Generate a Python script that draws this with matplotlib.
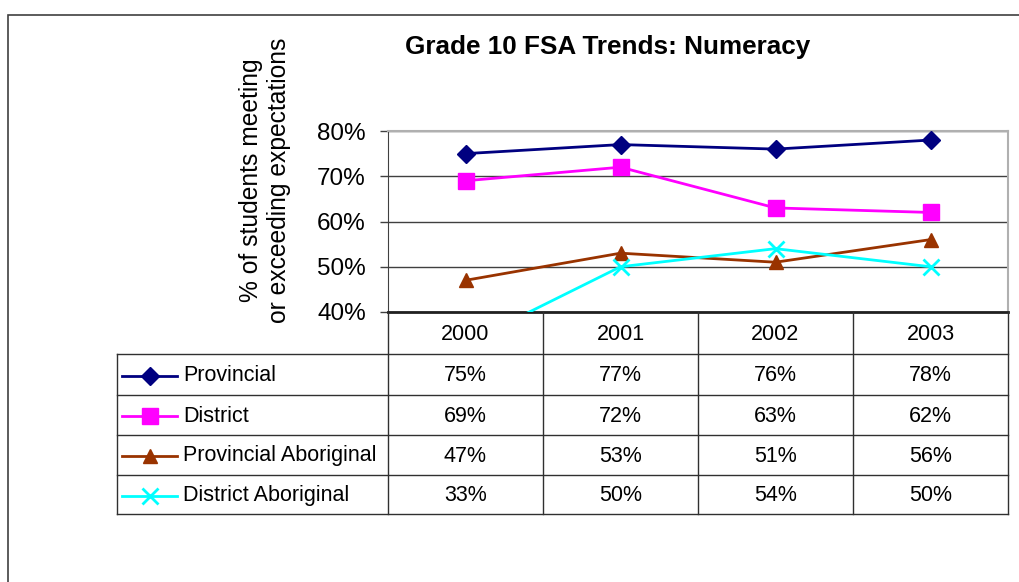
import matplotlib
matplotlib.use('Agg')
import matplotlib.pyplot as plt
import matplotlib.transforms as mtransforms
from matplotlib.lines import Line2D
from matplotlib.patches import Rectangle

plt.rcParams['font.family'] = ['Liberation Sans', 'DejaVu Sans']

years = ['2000', '2001', '2002', '2003']
series_names = ['Provincial', 'District', 'Provincial Aboriginal', 'District Aboriginal']
provincial = [75, 77, 76, 78]
district = [69, 72, 63, 62]
prov_aboriginal = [47, 53, 51, 56]
district_aboriginal = [33, 50, 54, 50]

values = [provincial, district, prov_aboriginal, district_aboriginal]
colors = ['#000080', '#FF00FF', '#993300', '#00FFFF']
markers = ['D', 's', '^', 'x']
msizes = [9, 11, 10, 11]

W, H = 1019, 582
fig = plt.figure(figsize=(W / 100, H / 100), dpi=100, facecolor='white')


def fy(y):
    return 1 - y / H


def fx(x):
    return x / W


# plot area in pixels
L, R, T, B = 388, 1008, 131, 312
ax = fig.add_axes([fx(L), fy(B), fx(R) - fx(L), fy(T) - fy(B)])
ax.set_xlim(-0.5, len(years) - 0.5)
ax.set_ylim(40, 80)
ax.set_yticks([40, 50, 60, 70, 80])
ax.set_yticklabels([f'{v}%' for v in [40, 50, 60, 70, 80]], fontsize=17.5)
ax.set_xticks([])
ax.tick_params(axis='y', direction='out', length=6, width=1, color='#404040', pad=10)
ax.grid(axis='y', color='#404040', linewidth=1)
ax.set_axisbelow(True)
for s in ['top', 'right']:
    ax.spines[s].set_color('#b0b0b0')
    ax.spines[s].set_linewidth(1.5)
ax.spines['left'].set_color('#404040')
ax.spines['bottom'].set_color('#202020')
ax.spines['bottom'].set_linewidth(2)

xs = list(range(len(years)))
for vals, c, m, ms in zip(values, colors, markers, msizes):
    ax.plot(xs, vals, color=c, lw=2, marker=m, markersize=ms,
            markeredgewidth=2 if m == 'x' else 1, markeredgecolor=c,
            clip_on=True, zorder=3)

fig.text(fx(608), fy(47), 'Grade 10 FSA Trends: Numeracy', fontsize=18.8,
         fontweight='bold', ha='center', va='center')

fig.text(fx(265), fy(180), '% of students meeting\nor exceeding expectations',
         rotation=90, ha='center', va='center', fontsize=17.7, linespacing=1.25)

# data table below the plot
bt = mtransforms.blended_transform_factory(ax.transData, fig.transFigure)
row_lines = [354, 395, 435, 475, 514]
leg_left = 117
lc = '#303030'

for y in row_lines:
    fig.add_artist(Line2D([fx(leg_left), fx(R)], [fy(y), fy(y)], color=lc, lw=1))
for i in range(len(years) + 1):
    xb = i - 0.5
    fig.add_artist(Line2D([xb, xb], [fy(B), fy(row_lines[-1])], color=lc, lw=1,
                          transform=bt))
fig.add_artist(Line2D([fx(leg_left), fx(leg_left)], [fy(row_lines[0]), fy(row_lines[-1])],
                      color=lc, lw=1))

for i, yr in enumerate(years):
    fig.text(i, fy((B + row_lines[0]) / 2 + 1), yr, transform=bt, ha='center',
             va='center', fontsize=15.5)

for r, (name, vals, c, m, ms) in enumerate(zip(series_names, values, colors, markers, msizes)):
    yc = fy((row_lines[r] + row_lines[r + 1]) / 2 + 1)
    fig.add_artist(Line2D([fx(122), fx(177)], [yc, yc], color=c, lw=2))
    fig.add_artist(Line2D([fx(149.5)], [yc], color=c, marker=m, markersize=ms,
                          markeredgewidth=2 if m == 'x' else 1, markeredgecolor=c))
    fig.text(fx(183), yc, name, ha='left', va='center', fontsize=15.5)
    for i, v in enumerate(vals):
        fig.text(i, yc, f'{v}%', transform=bt, ha='center', va='center', fontsize=15.5)

# outer chart border
fig.add_artist(Rectangle((fx(8), fy(600)), fx(1040) - fx(8), fy(15) - fy(600),
                         fill=False, edgecolor='#404040', lw=1.2,
                         transform=fig.transFigure))

fig.savefig('out.png', dpi=100, facecolor='white')
